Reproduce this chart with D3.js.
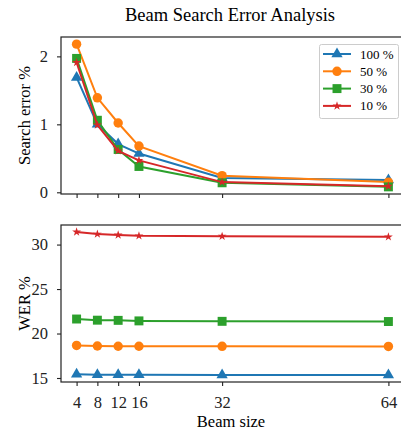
<!DOCTYPE html>
<html>
<head>
<meta charset="utf-8">
<script src="https://cdn.jsdelivr.net/npm/d3@7"></script>
<style>
  body { margin: 0; background: #fff; }
  svg text { font-family: "Liberation Serif", "Times New Roman", "DejaVu Serif", serif !important; }
</style>
</head>
<body>
<div id="chart"></div>
<script>
// beam sizes on the x axis
var beams = [4, 8, 12, 16, 32, 64];
var seriesNames = ["100 %", "50 %", "30 %", "10 %"];
var colors = ["#1f77b4", "#ff7f0e", "#2ca02c", "#d62728"];
var markers = ["triangle", "circle", "square", "star"];

// search error % per series
var errA = [1.69, 1.00, 0.71, 0.57, 0.21, 0.18];
var errB = [2.18, 1.39, 1.02, 0.68, 0.245, 0.15];
var errC = [1.97, 1.06, 0.63, 0.38, 0.14, 0.08];
var errD = [1.91, 0.99, 0.61, 0.47, 0.15, 0.09];

// WER % per series
var werA = [15.42, 15.37, 15.37, 15.36, 15.35, 15.35];
var werB = [18.66, 18.60, 18.57, 18.57, 18.56, 18.55];
var werC = [21.63, 21.50, 21.48, 21.42, 21.37, 21.35];
var werD = [31.42, 31.18, 31.08, 30.98, 30.93, 30.87];

var errTicks = [0, 1, 2];
var werTicks = [15, 20, 25, 30];

var W = 401, H = 433;
var left = 61, right = 404;

var svg = d3.select("#chart").append("svg")
  .attr("width", W).attr("height", H);

var x = d3.scaleLinear().domain([1, 67]).range([left, right]);

// title
svg.append("text")
  .attr("x", 230).attr("y", 21)
  .attr("text-anchor", "middle")
  .style("font-size", "18.5px")
  .text("Beam Search Error Analysis");

function drawMarker(g, type, color) {
  var sym;
  if (type == "triangle") sym = d3.symbol().type(d3.symbolTriangle).size(55);
  else if (type == "circle") sym = d3.symbol().type(d3.symbolCircle).size(70);
  else if (type == "square") sym = d3.symbol().type(d3.symbolSquare).size(80);
  else sym = d3.symbol().type(d3.symbolStar).size(24);
  g.append("path").attr("d", sym()).attr("fill", color);
}

function panel(top, bottom, domain, ticks, series, showLabels, ylabel) {
  var y = d3.scaleLinear().domain(domain).range([bottom, top]);
  var g = svg.append("g");

  // lines and markers
  series.forEach(function(vals, i) {
    var pts = beams.map(function(b, j) { return [x(b), y(vals[j])]; });
    g.append("path")
      .attr("d", d3.line()(pts))
      .attr("fill", "none")
      .attr("stroke", colors[i])
      .attr("stroke-width", 2);
    pts.forEach(function(p) {
      var m = g.append("g").attr("transform", "translate(" + p[0] + "," + p[1] + ")");
      drawMarker(m, markers[i], colors[i]);
    });
  });

  // frame
  svg.append("rect")
    .attr("x", left).attr("y", top)
    .attr("width", right - left).attr("height", bottom - top)
    .attr("fill", "none").attr("stroke", "#222").attr("stroke-width", 1.2);

  // y axis
  var ya = svg.append("g")
    .attr("transform", "translate(" + left + ",0)")
    .call(d3.axisLeft(y).tickValues(ticks).tickSize(4).tickPadding(9).tickFormat(d3.format("d")));
  ya.select(".domain").remove();
  ya.selectAll("line").attr("stroke", "#222").attr("stroke-width", 1.1);
  ya.selectAll("text").style("font-size", "16.5px").attr("fill", "#222");

  // x axis
  var xa = svg.append("g")
    .attr("transform", "translate(0," + bottom + ")")
    .call(d3.axisBottom(x).tickValues(beams).tickSize(4).tickPadding(10)
      .tickFormat(showLabels ? d3.format("d") : ""));
  xa.select(".domain").remove();
  xa.selectAll("line").attr("stroke", "#222").attr("stroke-width", 1.1);
  xa.selectAll("text").style("font-size", "16.5px").attr("fill", "#222");

  svg.append("text")
    .attr("transform", "translate(30," + (top + bottom) / 2 + ") rotate(-90)")
    .attr("text-anchor", "middle")
    .style("font-size", "16.5px")
    .text(ylabel);
}

panel(37, 194, [-0.025, 2.285], errTicks, [errA, errB, errC, errD], false, "Search error %");
panel(225, 382, [14.55, 32.2], werTicks, [werA, werB, werC, werD], true, "WER %");

svg.append("text")
  .attr("x", 231).attr("y", 427)
  .attr("text-anchor", "middle")
  .style("font-size", "16.5px")
  .text("Beam size");

// legend
var lg = svg.append("g");
lg.append("rect")
  .attr("x", 319.5).attr("y", 44.5).attr("width", 79).attr("height", 74)
  .attr("rx", 2)
  .attr("fill", "#fff").attr("fill-opacity", 0.8)
  .attr("stroke", "#ccc").attr("stroke-width", 1);
seriesNames.forEach(function(name, i) {
  var yy = 54 + i * 17.3;
  lg.append("line")
    .attr("x1", 323).attr("x2", 351).attr("y1", yy).attr("y2", yy)
    .attr("stroke", colors[i]).attr("stroke-width", 2);
  var m = lg.append("g").attr("transform", "translate(337," + yy + ")");
  drawMarker(m, markers[i], colors[i]);
  lg.append("text")
    .attr("x", 360).attr("y", yy + 4.5)
    .style("font-size", "13px")
    .text(name);
});
</script>
</body>
</html>
